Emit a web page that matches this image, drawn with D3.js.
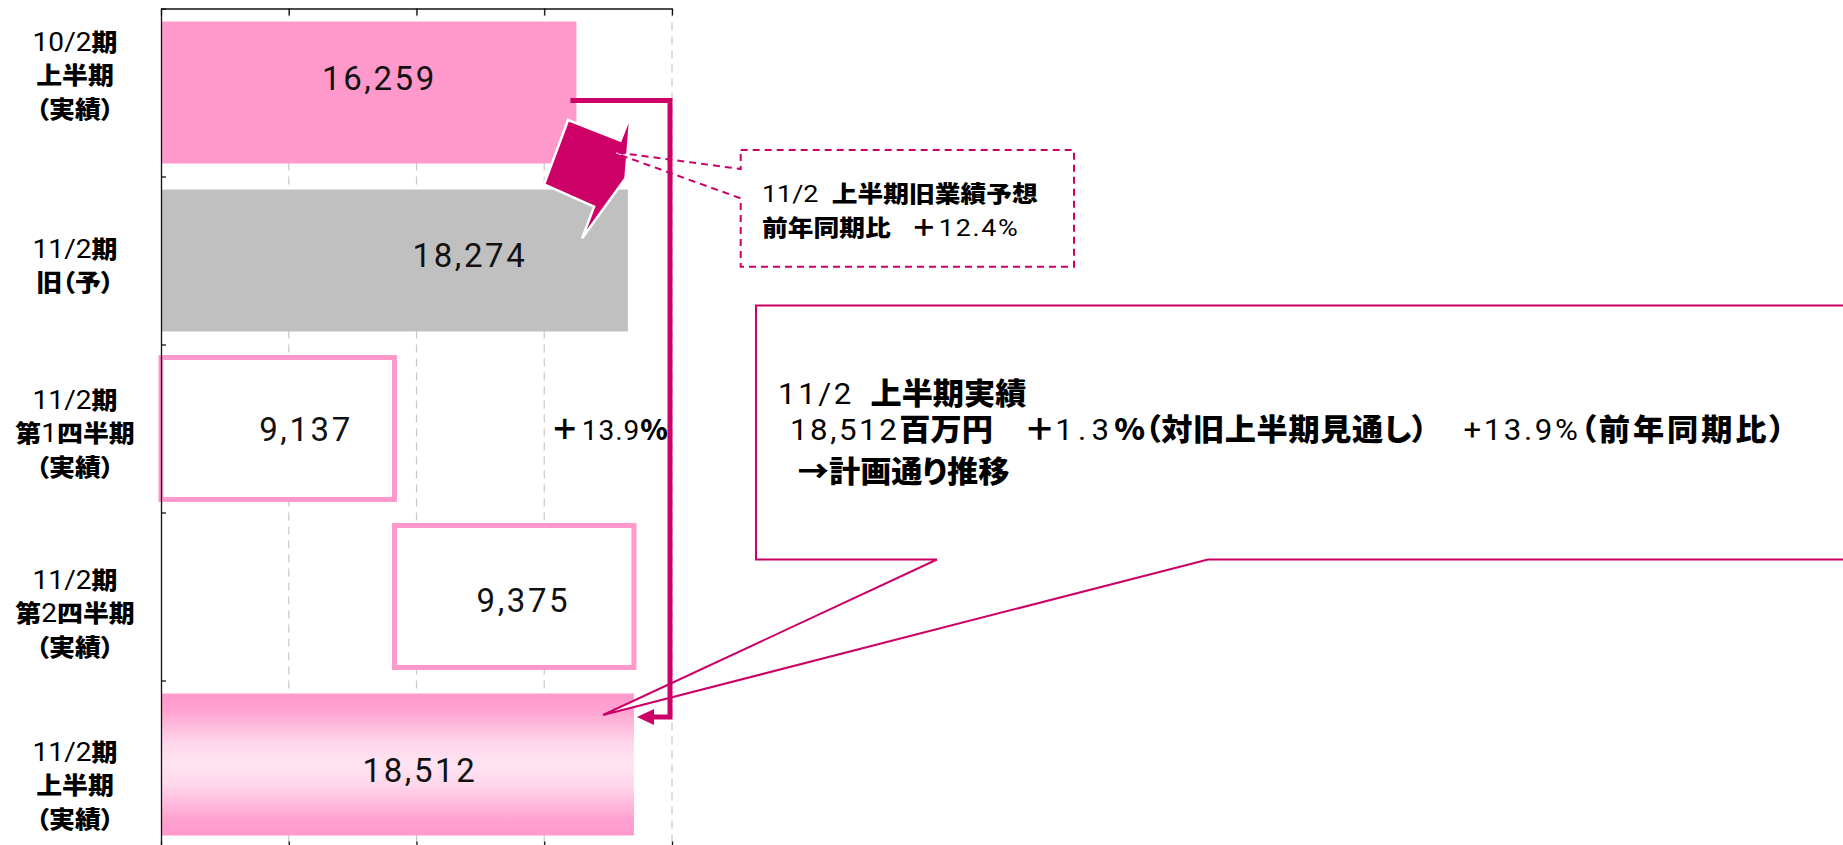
<!DOCTYPE html>
<html>
<head>
<meta charset="utf-8">
<script src="https://cdn.jsdelivr.net/npm/d3@7"></script>
<style>
  html, body { margin: 0; padding: 0; background: #fff; }
  svg { display: block; }
  .num { font-family: Roboto, "Noto Sans", sans-serif; font-weight: 400; }
  .jp  { font-family: "Noto Sans CJK JP", "Noto Sans CJK SC", sans-serif; font-weight: 900; font-feature-settings: "palt"; }
</style>
</head>
<body>
<svg id="chart" width="1843" height="845"></svg>
<script>
// ---- data ----------------------------------------------------------
const categoryLines = [
  ["10/2期", "上半期", "（実績）"],
  ["11/2期", "旧（予）"],
  ["11/2期", "第1四半期", "（実績）"],
  ["11/2期", "第2四半期", "（実績）"],
  ["11/2期", "上半期", "（実績）"]
];
const barStart = [0, 0, 0, 9137, 0];          // Q2 stacks on top of Q1
const barValue = [16259, 18274, 9137, 9375, 18512];
const valueText = ["16,259", "18,274", "9,137", "9,375", "18,512"];
const barKind = ["actual", "plan", "quarter", "quarter", "half"];
const xTicks = [0, 5000, 10000, 15000, 20000];

// ---- layout ----------------------------------------------------------
const plot = { left: 161, right: 672, top: 8.5, bottom: 848.5 };
// where each value label sits (value units) and its baseline shift from the bar centre
const labelAtValue = [8552, 12094, 5675, 14184, 10137];
const labelDy = [-2.5, 6.2, 12.2, 15.2, 17.2];
// first-line baseline of each category label relative to the band centre
const catFirstDy = [-41.5, -2.5, -19.5, -7.5, -3.5];

const PINK = "#FF99CC", GRAY = "#C0C0C0", CRIMSON = "#CC0066";

const svg = d3.select("#chart");
const defs = svg.append("defs");
const grad = defs.append("linearGradient").attr("id", "halfGrad")
  .attr("x1", 0).attr("y1", 0).attr("x2", 0).attr("y2", 1);
[[0, "#FF99CC"], [0.12, "#FFA3D1"], [0.36, "#FFD8EB"], [0.5, "#FFE3F1"],
 [0.64, "#FFD8EB"], [0.88, "#FFA3D1"], [1, "#FF99CC"]]
  .forEach(([o, c]) => grad.append("stop").attr("offset", o).attr("stop-color", c));

// ---- scales ----------------------------------------------------------
const x = d3.scaleLinear().domain([0, 20000]).range([plot.left, plot.right]);
const y = d3.scaleBand().domain(d3.range(categoryLines.length))
  .range([plot.top, plot.bottom]).paddingInner(0.155).paddingOuter(0.0775);
const yEdge = d3.scaleLinear().domain([0, categoryLines.length]).range([plot.top, plot.bottom]);
const bw = y.bandwidth();
const mid = i => y(i) + bw / 2;

// ---- gridlines ---------------------------------------------------------
svg.append("g").selectAll("line").data(xTicks.filter(d => d > 0)).join("line")
  .attr("x1", d => x(d)).attr("x2", d => x(d))
  .attr("y1", plot.top).attr("y2", plot.bottom)
  .attr("stroke", "#C8C8C8").attr("stroke-width", 1.2).attr("stroke-dasharray", "8,6");

// ---- bars --------------------------------------------------------------
const fillFor = k => k === "actual" ? PINK : k === "plan" ? GRAY : k === "half" ? "url(#halfGrad)" : "#fff";
svg.append("g").selectAll("rect").data(barValue).join("rect")
  .attr("x", (d, i) => x(barStart[i]))
  .attr("y", (d, i) => y(i))
  .attr("width", (d, i) => x(barStart[i] + d) - x(barStart[i]))
  .attr("height", bw)
  .attr("fill", (d, i) => fillFor(barKind[i]))
  .attr("stroke", (d, i) => barKind[i] === "quarter" ? PINK : "none")
  .attr("stroke-width", 5);

// ---- axes ----------------------------------------------------------------
function styleAxis(g) {
  g.selectAll("path, line").attr("stroke", "#111").attr("stroke-width", 1.3);
}
svg.append("g").attr("transform", `translate(0,${plot.top})`)
  .call(d3.axisTop(x).tickValues(xTicks).tickSize(-7).tickSizeOuter(0).tickFormat(""))
  .call(styleAxis);
svg.append("g").attr("transform", `translate(0,${plot.bottom})`)
  .call(d3.axisBottom(x).tickValues(xTicks).tickSize(-7).tickSizeOuter(0).tickFormat(""))
  .call(styleAxis);
svg.append("g").attr("transform", `translate(${plot.left},0)`)
  .call(d3.axisLeft(yEdge).tickValues(d3.range(categoryLines.length + 1)).tickSize(-5).tickSizeOuter(0).tickFormat(""))
  .call(styleAxis);

// ---- value labels ----------------------------------------------------------
svg.append("g").selectAll("text").data(barValue).join("text")
  .attr("class", "num")
  .attr("x", (d, i) => x(labelAtValue[i]))
  .attr("y", (d, i) => mid(i) + labelDy[i])
  .attr("text-anchor", "middle")
  .style("font-size", "33px").style("letter-spacing", "2.6px")
  .attr("fill", "#111")
  .text((d, i) => valueText[i]);

// ---- text helper: one <text> holding several lines of styled runs ------------
function drawLines(parent, x0, y0, lines, opts = {}) {
  const t = parent.append("text")
    .attr("transform", `translate(${x0},${y0}) scale(${opts.sx || 1},1)`)
    .attr("text-anchor", opts.anchor || "start")
    .attr("fill", "#000");
  lines.forEach(line => {
    line.runs.forEach((r, k) => {
      const s = t.append("tspan").attr("class", r.c)
        .style("font-size", r.fs + "px")
        .style("letter-spacing", (r.ls || 0) + "px")
        .text(r.t);
      if (k === 0) s.attr("x", line.x || 0).attr("y", line.y || 0);
      else if (r.dx) s.attr("dx", r.dx);
    });
  });
  return t;
}
function splitRuns(s, jpSize, numSize) {
  return s.match(/[0-9\/.,]+|[^0-9\/.,]+/g).map(t => /^[0-9\/.,]/.test(t)
    ? { t, c: "num", fs: numSize }
    : { t, c: "jp", fs: jpSize });
}

// ---- category labels ---------------------------------------------------------
const catG = svg.append("g");
categoryLines.forEach((lines, i) => {
  drawLines(catG, 75, mid(i) + catFirstDy[i],
    lines.map((ln, j) => ({ y: j * 33.5, runs: splitRuns(ln, 24, 26) })),
    { anchor: "middle", sx: 1.08 });
});

// ---- "+13.9%" beside the quarter bars ----------------------------------------
drawLines(svg, x(15250), mid(2) + 11, [{ runs: [
  { t: "＋", c: "jp", fs: 28 },
  { t: "13.9", c: "num", fs: 28, ls: 1, dx: 3 },
  { t: "%", c: "jp", fs: 28 }
] }]);

// ---- bolt marker between the first two bars -----------------------------------
const ax = x(barValue[1]), ay = yEdge(1);
const bolt = [[-59.8, -56.5], [-7.4, -35.8], [2.6, -61.5], [-2.4, 1.8],
              [-45.8, 61.8], [-33.8, 30.2], [-83.8, 7.8]];
svg.append("path")
  .attr("d", "M" + bolt.map(p => [ax + p[0], ay + p[1]].join(",")).join("L") + "Z")
  .attr("fill", CRIMSON).attr("stroke", "#fff").attr("stroke-width", 2.5)
  .attr("stroke-linejoin", "miter");

// ---- dashed callout: previous forecast ---------------------------------------
const sb = { l: 740.7, t: 150, r: 1074, b: 266.7 };
const sTip = [ax - 16.7, ay - 24.8];
svg.append("path")
  .attr("d", `M${sb.l},${sb.t}H${sb.r}V${sb.b}H${sb.l}V198.3L${sTip[0]},${sTip[1]}L${sb.l},169Z`)
  .attr("fill", "#fff").attr("stroke", CRIMSON).attr("stroke-width", 2)
  .attr("stroke-dasharray", "7,5");
drawLines(svg, 762, 202, [
  { y: 0, runs: [
    { t: "11/2", c: "num", fs: 24 },
    { t: "上半期旧業績予想", c: "jp", fs: 23, dx: 12 }
  ] },
  { y: 34, runs: [
    { t: "前年同期比", c: "jp", fs: 23 },
    { t: "＋", c: "jp", fs: 23, dx: 18 },
    { t: "12.4%", c: "num", fs: 24, ls: 1.5, dx: 2 }
  ] }
], { sx: 1.12 });

// ---- solid callout: first-half result -----------------------------------------
const bb = { l: 756, t: 305.5, r: 1860, b: 559.5 };
const bTip = [x(barValue[4]) - 31, y(4) + 21.5];
svg.append("path")
  .attr("d", `M${bb.l},${bb.t}H${bb.r}V${bb.b}H1208L${bTip[0]},${bTip[1]}L937,${bb.b}H${bb.l}Z`)
  .attr("fill", "#fff").attr("stroke", CRIMSON).attr("stroke-width", 2);
drawLines(svg, 778, 404, [
  { x: 0, y: 0, runs: [
    { t: "11/2", c: "num", fs: 30, ls: 2.5 },
    { t: "上半期実績", c: "jp", fs: 30, dx: 16 }
  ] },
  { x: 11.5, y: 36, runs: [
    { t: "18,512", c: "num", fs: 30, ls: 2.5 },
    { t: "百万円", c: "jp", fs: 30 },
    { t: "＋", c: "jp", fs: 30, dx: 30 },
    { t: "1.3", c: "num", fs: 30, ls: 5 },
    { t: "%", c: "jp", fs: 30 },
    { t: "（対旧上半期見通し）", c: "jp", fs: 30, ls: 0.6 },
    { t: "+13.9%", c: "num", fs: 30, ls: 2.5, dx: 34 },
    { t: "（前年同期比）", c: "jp", fs: 30, ls: 2.8 }
  ] },
  { x: 19, y: 78, runs: [
    { t: "→計画通り推移", c: "jp", fs: 30 }
  ] }
], { sx: 1.04 });

// ---- bracket from last year's half to this year's half -------------------------
const bracketY1 = mid(0) + 8, bracketY2 = y(4) + 23.5;
const xEnd = x(barValue[4]);
svg.append("path")
  .attr("d", `M${x(barValue[0]) - 6},${bracketY1}H${x(20000) - 2}V${bracketY2}H${xEnd + 16}`)
  .attr("fill", "none").attr("stroke", CRIMSON).attr("stroke-width", 5)
  .attr("stroke-linejoin", "miter");
svg.append("path")
  .attr("d", `M${xEnd + 3},${bracketY2}L${xEnd + 20},${bracketY2 - 8}L${xEnd + 20},${bracketY2 + 8}Z`)
  .attr("fill", CRIMSON);
</script>
</body>
</html>
